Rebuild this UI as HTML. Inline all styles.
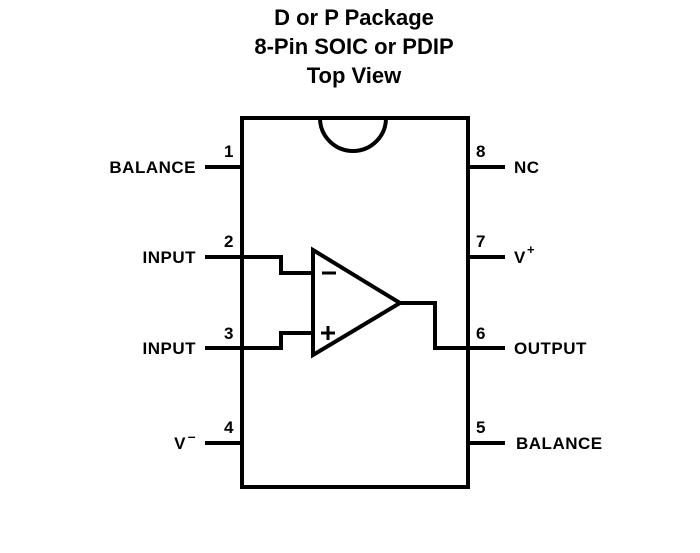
<!DOCTYPE html>
<html><head><style>
body{margin:0;background:#fff;}
svg text{font-family:"Liberation Sans",Arial,sans-serif;font-weight:bold;fill:#000;}
</style></head><body>
<svg width="700" height="548" viewBox="0 0 700 548" xmlns="http://www.w3.org/2000/svg">
<g text-anchor="middle" font-size="22">
<text x="354" y="25">D or P Package</text>
<text x="354" y="54">8-Pin SOIC or PDIP</text>
<text x="354" y="83">Top View</text>
</g>
<g fill="none" stroke="#000" stroke-width="4">
<path d="M242,118 H468 V487 H242 Z"/>
<path d="M320,118 A33,33 0 0 0 386,118"/>
<path d="M205,167 H242 M205,257 H242 M205,348 H242 M205,443 H242"/>
<path d="M468,167 H505 M468,257 H505 M468,348 H505 M468,443 H505"/>
<path d="M313,250 L400,303 L313,355 Z" stroke-linejoin="miter"/>
<path d="M242,257 H281 V273 H313"/>
<path d="M242,348 H281 V333 H313"/>
<path d="M400,303 H435 V348 H468"/>
<path d="M322,273 H336 M321,333 H335 M328,326 V340" stroke-width="3"/>
</g>
<g font-size="17" letter-spacing="0.5">
<text x="196" y="173" text-anchor="end">BALANCE</text>
<text x="196" y="263" text-anchor="end">INPUT</text>
<text x="196" y="354" text-anchor="end">INPUT</text>
<text x="186" y="449" text-anchor="end">V</text>
<text x="196" y="441" text-anchor="end" font-size="14">–</text>
<text x="514" y="173">NC</text>
<text x="514" y="263">V</text>
<text x="527" y="254" font-size="13">+</text>
<text x="514" y="354">OUTPUT</text>
<text x="516" y="449">BALANCE</text>
</g>
<g font-size="17">
<text x="224" y="157">1</text>
<text x="224" y="247">2</text>
<text x="224" y="339">3</text>
<text x="224" y="433">4</text>
<text x="476" y="157">8</text>
<text x="476" y="247">7</text>
<text x="476" y="339">6</text>
<text x="476" y="433">5</text>
</g>
</svg>
</body></html>
